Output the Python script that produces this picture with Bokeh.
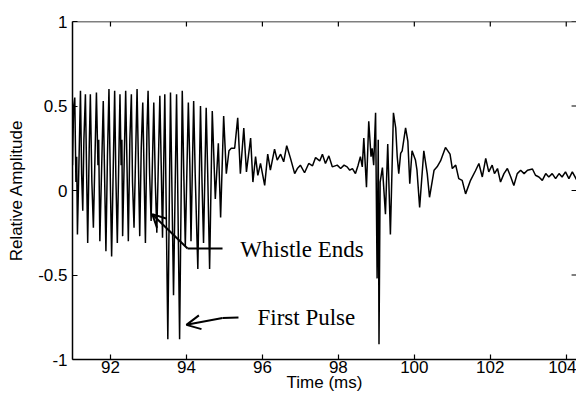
from bokeh.plotting import figure
from bokeh.models import Range1d, FixedTicker, Arrow, OpenHead, Label, ColumnDataSource, Span
from bokeh.embed import file_html
from bokeh.resources import INLINE

# ---- waveform samples (time in ms, relative amplitude) ----
time_ms = [
    91.00, 91.03, 91.06, 91.09, 91.11, 91.13, 91.21, 91.24, 91.27, 91.30,
    91.34, 91.40, 91.44, 91.47, 91.51, 91.55, 91.63, 91.67, 91.69, 91.72,
    91.81, 91.88, 91.92, 91.96, 92.00, 92.03, 92.11, 92.14, 92.18, 92.25,
    92.28, 92.30, 92.32, 92.40, 92.47, 92.51, 92.55, 92.58, 92.62, 92.70,
    92.77, 92.81, 92.85, 92.92, 92.96, 92.99, 93.03, 93.07, 93.14, 93.18,
    93.22, 93.30, 93.34, 93.37, 93.43, 93.51, 93.58, 93.66, 93.74, 93.82,
    93.89, 93.93, 93.97, 94.05, 94.09, 94.12, 94.19, 94.23, 94.30, 94.37,
    94.41, 94.45, 94.52, 94.56, 94.61, 94.68, 94.76, 94.84, 94.90, 94.98,
    95.05, 95.12, 95.18, 95.27, 95.35, 95.42, 95.51, 95.58, 95.69, 95.75,
    95.82, 95.88, 95.95, 96.06, 96.14, 96.21, 96.32, 96.39, 96.48, 96.56,
    96.64, 96.74, 96.85, 96.92, 97.00, 97.11, 97.22, 97.32, 97.40, 97.51,
    97.58, 97.66, 97.75, 97.84, 97.97, 98.06, 98.15, 98.23, 98.30, 98.37,
    98.45, 98.52, 98.58, 98.63, 98.67, 98.74, 98.80, 98.86, 98.89, 98.93,
    98.98, 99.02, 99.05, 99.07, 99.10, 99.16, 99.24, 99.30, 99.37, 99.45,
    99.51, 99.55, 99.59, 99.64, 99.68, 99.77, 99.83, 99.88, 99.94, 100.03,
    100.07, 100.14, 100.25, 100.34, 100.40, 100.52, 100.60, 100.69, 100.82, 100.94,
    101.00, 101.09, 101.17, 101.26, 101.35, 101.48, 101.61, 101.70, 101.79, 101.88,
    101.96, 102.05, 102.11, 102.19, 102.27, 102.36, 102.45, 102.54, 102.62, 102.71,
    102.80, 102.89, 102.98, 103.11, 103.19, 103.28, 103.37, 103.46, 103.54, 103.63,
    103.72, 103.81, 103.89, 103.98, 104.07, 104.16, 104.29,
]
amplitude = [
    0.15, 0.50, 0.55, 0.05, 0.20, -0.26, 0.59, 0.10, -0.12, 0.30,
    0.57, -0.31, 0.25, 0.57, 0.05, -0.22, 0.58, 0.15, 0.30, -0.30,
    0.53, -0.36, 0.20, 0.60, 0.00, -0.39, 0.59, 0.10, -0.31, 0.57,
    0.15, 0.30, -0.27, 0.59, -0.30, 0.30, 0.57, 0.05, -0.22, 0.60,
    -0.27, 0.25, 0.52, -0.31, 0.35, 0.59, 0.10, -0.18, 0.52, 0.05,
    -0.25, 0.56, 0.10, -0.28, 0.57, -0.88, 0.58, -0.62, 0.57, -0.88,
    0.59, 0.10, -0.33, 0.52, 0.15, -0.30, 0.53, 0.10, -0.465, 0.50,
    0.05, -0.31, 0.49, 0.10, -0.465, 0.47, -0.05, 0.28, -0.16, 0.44,
    0.10, 0.235, 0.25, 0.25, 0.43, 0.10, 0.37, 0.11, 0.31, 0.05,
    0.20, 0.09, 0.16, 0.03, 0.215, 0.12, 0.245, 0.18, 0.215, 0.17,
    0.265, 0.19, 0.10, 0.13, 0.15, 0.105, 0.16, 0.146, 0.195, 0.175,
    0.215, 0.16, 0.205, 0.14, 0.15, 0.13, 0.15, 0.14, 0.12, 0.13,
    0.10, 0.15, 0.20, 0.14, 0.31, 0.02, 0.41, 0.20, 0.25, 0.15,
    0.46, -0.52, 0.30, -0.91, 0.05, 0.136, -0.14, 0.275, -0.26, 0.46,
    0.37, 0.20, 0.10, 0.22, 0.235, 0.37, 0.29, 0.04, 0.235, 0.18,
    0.12, -0.10, 0.235, 0.10, -0.04, 0.12, 0.14, 0.175, 0.255, 0.215,
    0.13, 0.15, 0.07, 0.06, -0.02, 0.06, 0.117, 0.16, 0.08, 0.19,
    0.11, 0.15, 0.10, 0.13, 0.05, 0.10, 0.13, 0.08, 0.03, 0.10,
    0.12, 0.10, 0.12, 0.127, 0.09, 0.08, 0.06, 0.10, 0.08, 0.10,
    0.07, 0.10, 0.08, 0.11, 0.07, 0.11, 0.057,
]

x_ticks = [92, 94, 96, 98, 100, 102, 104]
y_ticks = [-1, -0.5, 0, 0.5, 1]
y_tick_labels = {-1: "-1", -0.5: "-0.5", 0: "0", 0.5: "0.5", 1: "1"}
x_label = "Time (ms)"
y_label = "Relative Amplitude"
x_min, x_max = 91.0, 104.27
y_min, y_max = -1.0, 1.0

# annotations (data coordinates)
whistle_text = "Whistle Ends"
whistle_text_xy = (95.42, -0.347)
whistle_bar = ([94.95, 94.03], [-0.343, -0.343])
whistle_arrow = (94.03, -0.343, 93.10, -0.140)
pulse_text = "First Pulse"
pulse_text_xy = (95.87, -0.751)
pulse_bar = ([95.37, 94.95], [-0.751, -0.755])
pulse_arrow = (94.95, -0.755, 94.00, -0.795)

FONT = "Liberation Sans"
SERIF = "Liberation Serif"
TICK_LEN_Y = 0.03   # inward tick length on the top edge (data units)
TICK_LEN_X = 0.13   # inward tick length on the right edge (data units)

p = figure(width=576, height=394,
           x_range=Range1d(x_min, x_max), y_range=Range1d(y_min, y_max),
           output_backend="svg", toolbar_location=None,
           min_border_left=72, min_border_top=21,
           min_border_right=0, min_border_bottom=0)
p.outline_line_color = None
p.grid.visible = False
p.background_fill_color = "white"
p.border_fill_color = "white"

src = ColumnDataSource(data=dict(t=time_ms, a=amplitude))
p.line("t", "a", source=src, line_color="black", line_width=1.5)

# bottom axis
xa = p.xaxis[0]
xa.ticker = FixedTicker(ticks=x_ticks)
xa.major_tick_in = 5
xa.major_tick_out = 0
xa.minor_tick_line_color = None
xa.axis_line_color = "black"
xa.axis_line_width = 1.5
xa.major_tick_line_width = 1.2
xa.major_label_text_font = FONT
xa.major_label_text_font_size = "17px"
xa.major_label_text_color = "black"
xa.major_label_standoff = 1
xa.axis_label = x_label
xa.axis_label_text_font = FONT
xa.axis_label_text_font_size = "17px"
xa.axis_label_text_font_style = "normal"
xa.axis_label_text_color = "black"
xa.axis_label_standoff = -3

# left axis
ya = p.yaxis[0]
ya.ticker = FixedTicker(ticks=y_ticks)
ya.major_label_overrides = y_tick_labels
ya.major_tick_in = 5
ya.major_tick_out = 0
ya.minor_tick_line_color = None
ya.axis_line_color = "black"
ya.axis_line_width = 1.5
ya.major_tick_line_width = 1.2
ya.major_label_text_font = FONT
ya.major_label_text_font_size = "17px"
ya.major_label_text_color = "black"
ya.major_label_standoff = 5
ya.axis_label = y_label
ya.axis_label_text_font = FONT
ya.axis_label_text_font_size = "17px"
ya.axis_label_text_font_style = "normal"
ya.axis_label_text_color = "black"
ya.axis_label_standoff = 9

# top edge of the box with inward ticks, and inward ticks on the right edge
p.add_layout(Span(location=y_max, dimension="width", line_color="black", line_width=1.5))
p.segment(x0=x_ticks, y0=[y_max] * len(x_ticks), x1=x_ticks,
          y1=[y_max - TICK_LEN_Y] * len(x_ticks), line_color="black", line_width=1.2)
p.segment(x0=[x_max] * len(y_ticks), y0=y_ticks, x1=[x_max - TICK_LEN_X] * len(y_ticks),
          y1=y_ticks, line_color="black", line_width=1.2)

# annotations
p.line(whistle_bar[0], whistle_bar[1], line_color="black", line_width=2)
p.add_layout(Arrow(end=OpenHead(size=13, line_width=2, line_color="black"),
                   x_start=whistle_arrow[0], y_start=whistle_arrow[1],
                   x_end=whistle_arrow[2], y_end=whistle_arrow[3],
                   line_width=2, line_color="black"))
p.add_layout(Label(x=whistle_text_xy[0], y=whistle_text_xy[1], text=whistle_text,
                   text_font=SERIF, text_font_size="23px", text_color="black",
                   text_baseline="alphabetic"))

p.line(pulse_bar[0], pulse_bar[1], line_color="black", line_width=2)
p.add_layout(Arrow(end=OpenHead(size=14, line_width=2, line_color="black"),
                   x_start=pulse_arrow[0], y_start=pulse_arrow[1],
                   x_end=pulse_arrow[2], y_end=pulse_arrow[3],
                   line_width=2, line_color="black"))
p.add_layout(Label(x=pulse_text_xy[0], y=pulse_text_xy[1], text=pulse_text,
                   text_font=SERIF, text_font_size="23px", text_color="black",
                   text_baseline="alphabetic"))

open("out.html", "w").write(file_html(p, INLINE))
